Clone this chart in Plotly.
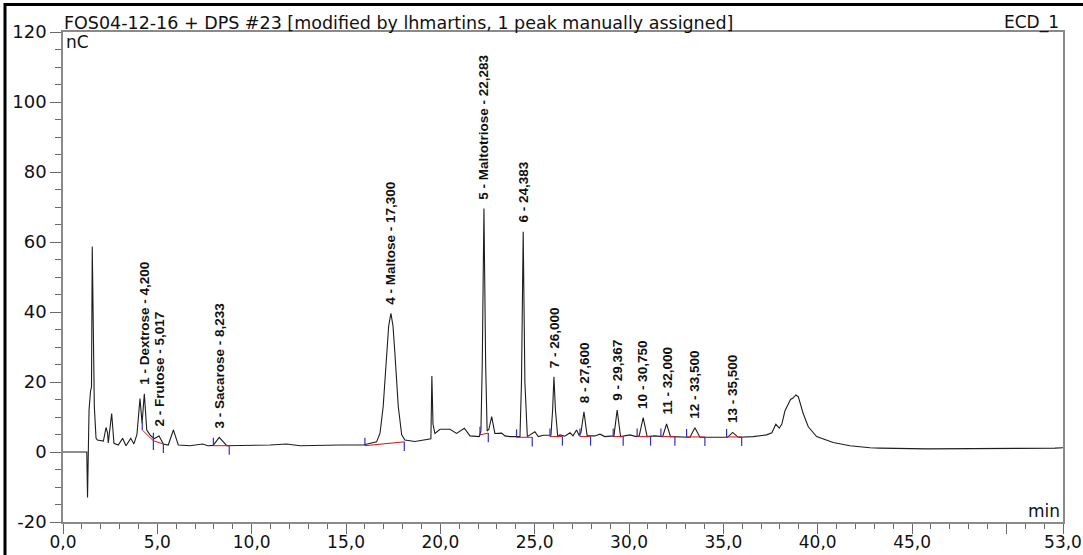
import plotly.graph_objects as go

# ---------------- data ----------------
time_min = [0.0, 1.26, 1.30, 1.34, 1.38, 1.46, 1.51, 1.55, 1.61, 1.66, 1.75, 1.82, 2.14, 2.28, 2.36, 2.40,
            2.58, 2.70, 2.93, 3.16, 3.34, 3.59, 3.76, 3.92, 4.08, 4.19, 4.31, 4.44, 4.61, 4.82, 5.09, 5.32,
            5.58, 5.85, 6.11, 6.73, 7.40, 7.68, 7.96, 8.28, 8.68, 9.91, 10.97, 11.85, 12.56, 14.68, 15.90,
            16.62, 16.80, 16.97, 17.05, 17.15, 17.26, 17.38, 17.49, 17.59, 17.68, 17.77, 17.95, 18.12,
            18.65, 19.45, 19.50, 19.55, 19.61, 19.71, 19.98, 20.51, 20.86, 21.27, 21.57, 22.06, 22.15,
            22.22, 22.31, 22.40, 22.48, 22.57, 22.72, 22.89, 23.25, 23.42, 23.69, 24.22, 24.30, 24.39,
            24.48, 24.61, 25.01, 25.19, 25.45, 25.86, 25.95, 26.02, 26.10, 26.22, 26.34, 26.60, 26.87,
            27.03, 27.22, 27.35, 27.45, 27.61, 27.78, 28.19, 28.46, 28.72, 28.99, 29.20, 29.37, 29.55,
            30.05, 30.37, 30.54, 30.75, 30.96, 31.37, 31.78, 31.99, 32.20, 32.87, 33.23, 33.49, 33.76,
            34.64, 35.22, 35.49, 35.79, 36.58, 37.29, 37.57, 37.78, 37.96, 38.10, 38.26, 38.38, 38.56,
            38.69, 38.84, 38.97, 39.23, 39.50, 39.94, 40.82, 41.71, 42.77, 43.30, 45.77, 52.31, 52.57, 53.0]
signal_nC = [0.0, 0.0, -13.0, -0.5, 12.0, 17.5, 18.5, 58.7, 32.0, 13.0, 4.0, 3.4, 3.1, 7.0, 5.5, 2.6,
             11.0, 2.5, 2.0, 3.9, 1.8, 3.9, 2.3, 5.0, 15.3, 8.2, 16.6, 6.3, 4.9, 3.8, 4.6, 2.3,
             2.0, 6.3, 2.0, 1.8, 2.3, 1.8, 1.9, 4.2, 1.8, 1.8, 2.0, 2.3, 1.8, 2.0, 2.0,
             2.9, 5.3, 13.0, 20.0, 28.2, 36.0, 39.6, 36.0, 28.2, 20.0, 13.0, 4.9, 3.4,
             3.0, 3.6, 3.8, 21.7, 8.0, 5.3, 6.5, 6.5, 5.3, 6.8, 4.6, 4.4, 6.0,
             25.0, 69.6, 25.0, 6.0, 6.5, 10.1, 5.3, 5.4, 4.6, 4.4, 4.4, 20.0, 62.9,
             20.0, 4.4, 5.8, 4.4, 4.8, 4.8, 12.0, 21.5, 12.0, 4.4, 4.9, 4.5, 5.5,
             4.6, 6.3, 4.8, 5.5, 11.5, 4.6, 4.6, 5.1, 4.4, 4.4, 4.6, 12.0, 4.4,
             4.9, 4.4, 4.6, 9.8, 4.4, 4.6, 4.4, 8.0, 4.4, 4.4, 4.2, 6.9, 4.2,
             4.2, 4.2, 5.6, 4.2, 4.4, 4.9, 5.5, 7.9, 6.8, 8.0, 11.7, 12.9, 15.0,
             15.4, 16.3, 15.8, 11.0, 7.2, 4.4, 2.7, 1.8, 1.2, 1.1, 0.9, 0.9, 1.1, 1.2]

peak_labels = ["1 - Dextrose - 4,200", "2 - Frutose - 5,017", "3 - Sacarose - 8,233",
               "4 - Maltose - 17,300", "5 - Maltotriose - 22,283", "6 - 24,383", "7 - 26,000",
               "8 - 27,600", "9 - 29,367", "10 - 30,750", "11 - 32,000", "12 - 33,500", "13 - 35,500"]
peak_apex_t = [4.31, 5.09, 8.28, 17.38, 22.31, 24.39, 26.02, 27.61, 29.37, 30.75, 31.99, 33.49, 35.49]
peak_apex_v = [16.6, 4.6, 4.2, 39.6, 69.6, 62.9, 21.5, 11.5, 12.0, 9.8, 8.0, 6.9, 5.6]

int_start_t = [4.20, 4.79, 7.97, 16.00, 22.10, 24.04, 25.81, 27.40, 29.16, 30.43, 31.69, 33.05, 35.17]
int_start_v = [6.3, 3.2, 1.8, 1.8, 4.9, 4.2, 4.4, 4.4, 4.4, 4.4, 4.4, 4.3, 4.3]
int_end_t = [4.79, 5.32, 8.81, 18.09, 22.54, 24.87, 26.47, 27.96, 29.69, 31.14, 32.43, 34.02, 35.97]
int_end_v = [3.2, 2.3, 1.8, 2.9, 5.4, 4.2, 4.4, 4.4, 4.4, 4.4, 4.4, 4.3, 4.3]

x_tickvals = [0, 5, 10, 15, 20, 25, 30, 35, 40, 45, 50, 53]
x_ticktext = ["0,0", "5,0", "10,0", "15,0", "20,0", "25,0", "30,0", "35,0", "40,0", "45,0", "", "53,0"]
y_tickvals = [-20, 0, 20, 40, 60, 80, 100, 120]
y_ticktext = ["-20", "0", "20", "40", "60", "80", "100", "120"]

title_text = "FOS04-12-16 + DPS #23 [modified by lhmartins, 1 peak manually assigned]"
channel_text = "ECD_1"

# ---------------- figure ----------------
fig = go.Figure()

fig.add_trace(go.Scatter(x=time_min, y=signal_nC, mode="lines",
                         line=dict(color="#1e1e1e", width=1.1), hoverinfo="skip"))

# integration baselines (red)
bx, by = [], []
for t0, v0, t1, v1 in zip(int_start_t, int_start_v, int_end_t, int_end_v):
    bx += [t0, t1, None]
    by += [v0, v1, None]
fig.add_trace(go.Scatter(x=bx, y=by, mode="lines", line=dict(color="#e01010", width=1), hoverinfo="skip"))

# peak delimiters (blue): start ticks up, end ticks down
UP, DOWN = 2.3, 2.6
mx, my = [], []
for t0, v0 in zip(int_start_t, int_start_v):
    mx += [t0, t0, None]
    my += [v0, v0 + UP, None]
for t1, v1 in zip(int_end_t, int_end_v):
    mx += [t1, t1, None]
    my += [v1, v1 - DOWN, None]
fig.add_trace(go.Scatter(x=mx, y=my, mode="lines", line=dict(color="#2f2fd0", width=1.2), hoverinfo="skip"))

annotations = []
for txt, t, v in zip(peak_labels, peak_apex_t, peak_apex_v):
    annotations.append(dict(x=t, y=v, xref="x", yref="y", text=txt, showarrow=False,
                            textangle=-90, xanchor="center", yanchor="bottom", yshift=7,
                            font=dict(family="Liberation Sans, Arial, sans-serif", size=13.5,
                                      color="#111", weight="bold")))

label_font = dict(family="DejaVu Sans, sans-serif", size=17, color="#111")
annotations += [
    dict(x=0, y=1, xref="paper", yref="paper", text=title_text, showarrow=False,
         xanchor="left", yanchor="bottom", xshift=-1, yshift=-3,
         font=dict(family="DejaVu Sans, sans-serif", size=17.5, color="#111")),
    dict(x=1, y=1, xref="paper", yref="paper", text=channel_text, showarrow=False,
         xanchor="right", yanchor="bottom", xshift=-2, yshift=-3, font=label_font),
    dict(x=0, y=1, xref="paper", yref="paper", text="nC", showarrow=False,
         xanchor="left", yanchor="top", xshift=1, yshift=2, font=label_font),
    dict(x=1, y=0, xref="paper", yref="paper", text="min", showarrow=False,
         xanchor="right", yanchor="bottom", xshift=-1, yshift=-1, font=label_font),
]

axis_common = dict(showgrid=False, zeroline=False, showline=True, linecolor="#8a8a8a", linewidth=1.5,
                   mirror=True, ticks="outside", tickcolor="#6a6a6a", tickwidth=1.2, automargin=False,
                   ticklabeloverflow="allow")

fig.update_layout(
    width=1083, height=555,
    margin=dict(l=63, r=20, t=32, b=33),
    paper_bgcolor="white", plot_bgcolor="white",
    showlegend=False,
    annotations=annotations,
    xaxis=dict(range=[0, 53], tickmode="array", tickvals=x_tickvals, ticktext=x_ticktext, ticklen=10,
               ticklabelstandoff=-6,
               tickfont=dict(family="DejaVu Sans, sans-serif", size=17, color="#111"),
               minor=dict(tickmode="linear", tick0=0, dtick=1, ticklen=5, ticks="outside",
                          tickcolor="#6a6a6a", tickwidth=1), **axis_common),
    yaxis=dict(range=[-20, 120], tickmode="array", tickvals=y_tickvals, ticktext=y_ticktext, ticklen=11,
               tickfont=dict(family="DejaVu Sans, sans-serif", size=18, color="#111"),
               minor=dict(tickmode="linear", tick0=0, dtick=5, ticklen=6, ticks="outside",
                          tickcolor="#6a6a6a", tickwidth=1), **axis_common),
    shapes=[
        dict(type="rect", xref="paper", yref="paper", x0=-0.058, x1=1.06, y0=-0.2, y1=1.056,
             line=dict(color="black", width=3), fillcolor="rgba(0,0,0,0)", layer="above"),
    ],
)

fig.write_html("out.html", config={"displayModeBar": False},
               post_script="document.body.style.margin='0px';")
